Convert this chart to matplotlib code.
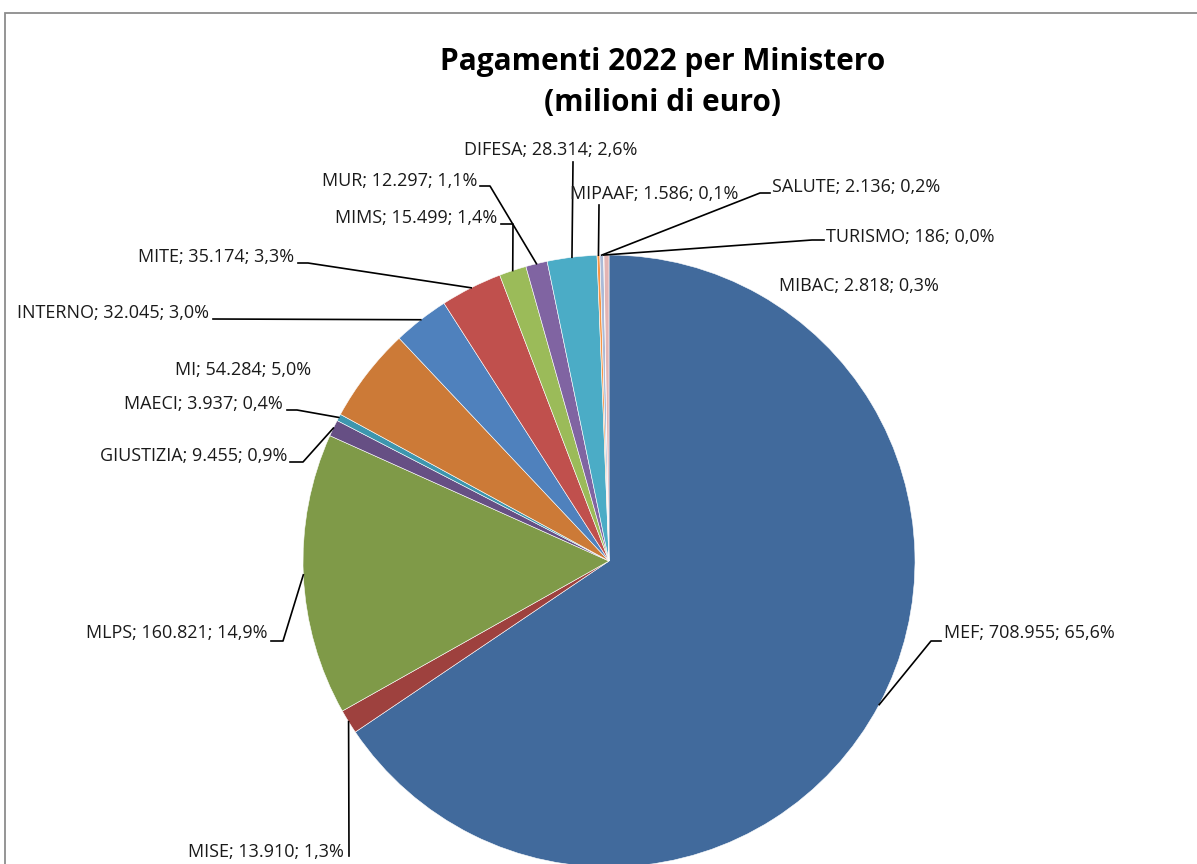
import numpy as np
import matplotlib.pyplot as plt
from matplotlib.patches import Rectangle

plt.rcParams['font.family'] = ['Open Sans', 'DejaVu Sans']

ministeri = ['MEF', 'MISE', 'MLPS', 'GIUSTIZIA', 'MAECI', 'MI', 'INTERNO', 'MITE',
             'MIMS', 'MUR', 'DIFESA', 'MIPAAF', 'SALUTE', 'TURISMO', 'MIBAC']
pagamenti = [708955, 13910, 160821, 9455, 3937, 54284, 32045, 35174,
             15499, 12297, 28314, 1586, 2136, 186, 2818]
colori = ['#416A9C', '#9E413E', '#7F9A48', '#664F84', '#3D96AE', '#CC7A37', '#4F81BD', '#C0504D',
          '#9BBB59', '#8064A2', '#4BACC6', '#F79646', '#AABAD7', '#D9A6A5', '#E3B4B3']

W, H = 1197, 864

# posizione etichette (pixel, y dall'alto), allineamento, gomiti della linea guida
etichette = {
    'MEF': ((944, 633), 'left', [(931, 641), (941, 641)]),
    'MISE': ((344, 852), 'right', [(349, 856)]),
    'MLPS': ((268, 633), 'right', [(283, 641), (271, 641)]),
    'GIUSTIZIA': ((287, 456), 'right', [(303, 462), (290, 462)]),
    'MAECI': ((283, 404), 'right', [(297, 410), (287, 410)]),
    'MI': ((311, 370), 'right', []),
    'INTERNO': ((209, 313), 'right', [(213, 319)]),
    'MITE': ((294, 257), 'right', [(308, 263), (298, 263)]),
    'MIMS': ((497, 218), 'right', [(513, 224), (501, 224)]),
    'MUR': ((477, 181), 'right', [(490, 186), (480, 186)]),
    'DIFESA': ((551, 150), 'center', [(573, 162)]),
    'MIPAAF': ((654, 194), 'center', [(599, 205)]),
    'SALUTE': ((772, 187), 'left', [(760, 193), (770, 193)]),
    'TURISMO': ((826, 237), 'left', [(812, 240), (824, 240)]),
    'MIBAC': ((779, 286), 'left', []),
}

fig = plt.figure(figsize=(W / 100, H / 100), dpi=100)
ax = fig.add_axes([0, 0, 1, 1])

cx, cy, r = 609, H - 561, 306
wedges, _ = ax.pie(pagamenti, colors=colori, startangle=90, counterclock=False,
                   center=(cx, cy), radius=r, frame=True,
                   wedgeprops=dict(linewidth=0.4, edgecolor='white'))
ax.set_xlim(0, W)
ax.set_ylim(0, H)
ax.axis('off')

totale = sum(pagamenti)
for nome, val, w in zip(ministeri, pagamenti, wedges):
    (tx, ty), ha, gomiti = etichette[nome]
    testo = f"{nome}; {val:,}".replace(',', '.') + "; " + f"{val / totale * 100:.1f}".replace('.', ',') + "%"
    ax.text(tx, H - ty, testo, ha=ha, va='center', fontsize=13, color='#1a1a1a')
    if gomiti:
        ang = np.deg2rad((w.theta1 + w.theta2) / 2)
        xs = [cx + r * np.cos(ang)] + [g[0] for g in gomiti]
        ys = [cy + r * np.sin(ang)] + [H - g[1] for g in gomiti]
        ax.plot(xs, ys, color='black', lw=1.2)

fig.text(663 / W, 1 - 62 / H, 'Pagamenti 2022 per Ministero', ha='center', va='center',
         fontsize=21.5, fontweight='bold')
fig.text(663 / W, 1 - 103 / H, '(milioni di euro)', ha='center', va='center',
         fontsize=21.5, fontweight='bold')

# bordo del grafico
ax.add_patch(Rectangle((4.5, -20), W + 20, H - 12.5 + 20, fill=False,
                       edgecolor='#8c8c8c', lw=1.3, clip_on=False))

fig.savefig('out.png', dpi=100)
